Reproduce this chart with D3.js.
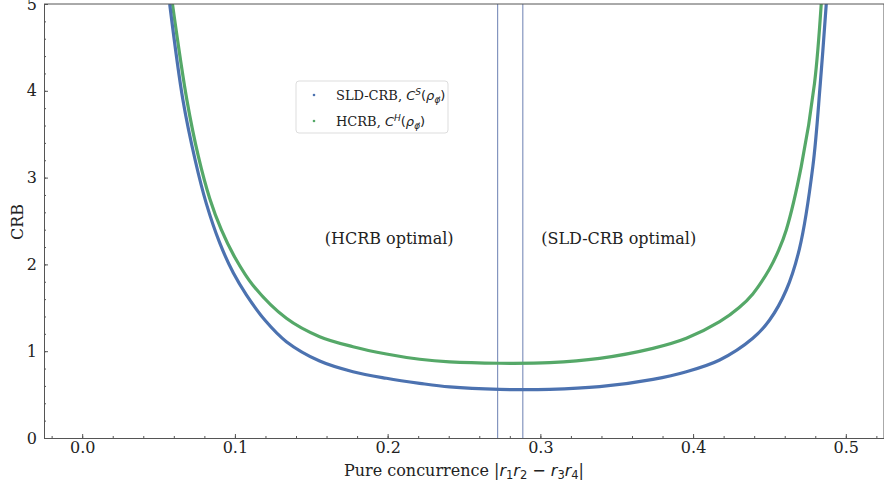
<!DOCTYPE html>
<html>
<head>
<meta charset="utf-8">
<script src="https://cdn.jsdelivr.net/npm/d3@7"></script>
<style>
  body { margin: 0; background: #fff; }
  svg { display: block; font-family: "DejaVu Serif", serif; }
</style>
</head>
<body>
<svg width="884" height="486"></svg>
<script>
// values
const sldX = [0.0573, 0.0660, 0.0740, 0.0813, 0.0900, 0.0990, 0.1075, 0.1200, 0.1337, 0.1555, 0.1773, 0.1992, 0.2210, 0.2406, 0.2733, 0.3061, 0.3388, 0.3737, 0.3956, 0.4174, 0.4391, 0.4501, 0.4610, 0.4697, 0.4784, 0.4833, 0.4872];
const sldY = [5.00, 3.89, 3.20, 2.70, 2.25, 1.90, 1.65, 1.35, 1.11, 0.887, 0.764, 0.688, 0.630, 0.588, 0.560, 0.560, 0.591, 0.676, 0.764, 0.899, 1.149, 1.359, 1.705, 2.185, 3.126, 4.086, 5.00];
const hcrbX = [0.0591, 0.0686, 0.0760, 0.0835, 0.0911, 0.1000, 0.1118, 0.1337, 0.1555, 0.1773, 0.1992, 0.2210, 0.2406, 0.2733, 0.3061, 0.3388, 0.3737, 0.3956, 0.4174, 0.4300, 0.4391, 0.4501, 0.4562, 0.4610, 0.4708, 0.4795, 0.4839];
const hcrbY = [5.00, 3.89, 3.25, 2.76, 2.40, 2.08, 1.76, 1.379, 1.167, 1.052, 0.968, 0.907, 0.876, 0.861, 0.868, 0.918, 1.033, 1.149, 1.340, 1.50, 1.660, 1.950, 2.170, 2.396, 3.126, 4.086, 5.00];
const vLines = [0.272, 0.2885];
const xTicks = [0.0, 0.1, 0.2, 0.3, 0.4, 0.5];
const yTicks = [0, 1, 2, 3, 4, 5];

const margin = {top: 4, left: 44};
const width = 840, height = 434;
const blue = "#4c72b0", green = "#55a868";

const svg = d3.select("svg");
const g = svg.append("g").attr("transform", `translate(${margin.left},${margin.top})`);

const x = d3.scaleLinear().domain([-0.025, 0.525]).range([0, width]);
const y = d3.scaleLinear().domain([0, 5]).range([height, 0]);

g.append("clipPath").attr("id", "clip")
  .append("rect").attr("width", width).attr("height", height);

// vertical markers
g.selectAll(".vline").data(vLines).enter().append("line")
  .attr("x1", d => x(d)).attr("x2", d => x(d))
  .attr("y1", 0).attr("y2", height)
  .attr("stroke", "#8495bf").attr("stroke-width", 1.2);

const line = d3.line().x(d => x(d[0])).y(d => y(d[1])).curve(d3.curveCatmullRom.alpha(0.5));

g.append("path").datum(d3.zip(hcrbX, hcrbY))
  .attr("clip-path", "url(#clip)")
  .attr("d", line).attr("fill", "none").attr("stroke", green).attr("stroke-width", 3.2);
g.append("path").datum(d3.zip(sldX, sldY))
  .attr("clip-path", "url(#clip)")
  .attr("d", line).attr("fill", "none").attr("stroke", blue).attr("stroke-width", 3.2);

// axes, ticks pointing inward
const xAxis = g.append("g").attr("transform", `translate(0,${height})`)
  .call(d3.axisBottom(x).tickValues(xTicks).tickFormat(d3.format(".1f")).tickSizeInner(-4).tickSizeOuter(0).tickPadding(4));
xAxis.append("g").call(d3.axisBottom(x).tickValues(d3.range(-0.02, 0.521, 0.02)).tickFormat("").tickSizeInner(-2).tickSizeOuter(0));
const yAxis = g.append("g")
  .call(d3.axisLeft(y).tickValues(yTicks).tickFormat(d3.format("d")).tickSizeInner(-4).tickSizeOuter(0).tickPadding(7));
yAxis.append("g").call(d3.axisLeft(y).tickValues(d3.range(0, 5.01, 0.2)).tickFormat("").tickSizeInner(-2).tickSizeOuter(0));

g.selectAll(".domain").attr("stroke", "#555");
g.selectAll(".tick line").attr("stroke", "#555");
g.selectAll(".tick text").attr("font-family", "DejaVu Serif").attr("font-size", 16).attr("fill", "#222");

g.append("line").attr("x1", 0).attr("x2", width).attr("y1", 0).attr("y2", 0).attr("stroke", "#555");
g.append("line").attr("x1", width).attr("x2", width).attr("y1", 0).attr("y2", height).attr("stroke", "#555");

// annotations
g.append("text").attr("x", x(0.201)).attr("y", y(2.3)).attr("dy", "0.35em")
  .attr("text-anchor", "middle").attr("font-size", 16).attr("fill", "#222").text("(HCRB optimal)");
g.append("text").attr("x", x(0.3513)).attr("y", y(2.3)).attr("dy", "0.35em")
  .attr("text-anchor", "middle").attr("font-size", 16).attr("fill", "#222").text("(SLD-CRB optimal)");

// axis labels
const xl = svg.append("text").attr("x", 464).attr("y", 476).attr("text-anchor", "middle")
  .attr("font-size", 16).attr("fill", "#222");
xl.append("tspan").text("Pure concurrence |");
const mathSans = "DejaVu Sans";
xl.append("tspan").attr("font-family", mathSans).attr("font-style", "italic").text("r");
xl.append("tspan").attr("font-family", mathSans).attr("font-size", 11.5).attr("dy", 3).text("1");
xl.append("tspan").attr("font-family", mathSans).attr("font-style", "italic").attr("dy", -3).text("r");
xl.append("tspan").attr("font-family", mathSans).attr("font-size", 11.5).attr("dy", 3).text("2");
xl.append("tspan").attr("font-family", mathSans).attr("dy", -3).text(" \u2212 ");
xl.append("tspan").attr("font-family", mathSans).attr("font-style", "italic").text("r");
xl.append("tspan").attr("font-family", mathSans).attr("font-size", 11.5).attr("dy", 3).text("3");
xl.append("tspan").attr("font-family", mathSans).attr("font-style", "italic").attr("dy", -3).text("r");
xl.append("tspan").attr("font-family", mathSans).attr("font-size", 11.5).attr("dy", 3).text("4");
xl.append("tspan").attr("dy", -3).text("|");

svg.append("text").attr("transform", "translate(23,222) rotate(-90)")
  .attr("text-anchor", "middle").attr("font-size", 16).attr("fill", "#222").text("CRB");

// legend
const lg = svg.append("g").attr("transform", "translate(296,81)");
lg.append("rect").attr("width", 152).attr("height", 52).attr("rx", 3)
  .attr("fill", "#fff").attr("stroke", "#ddd");
const entries = [{sym: "S", label: "SLD-CRB, ", c: blue}, {sym: "H", label: "HCRB, ", c: green}];
entries.forEach((e, i) => {
  const cy = 14 + i * 26;
  lg.append("circle").attr("cx", 18).attr("cy", cy).attr("r", 1.3).attr("fill", e.c);
  const t = lg.append("text").attr("x", 40).attr("y", cy).attr("dy", "0.35em")
    .attr("font-size", 13).attr("fill", "#222");
  t.append("tspan").text(e.label);
  t.append("tspan").attr("font-family", mathSans).attr("font-style", "italic").text("C");
  t.append("tspan").attr("font-family", mathSans).attr("font-style", "italic").attr("font-size", 9).attr("dy", -5).text(e.sym);
  t.append("tspan").attr("font-family", mathSans).attr("dy", 5).text("(");
  t.append("tspan").attr("font-family", mathSans).attr("font-style", "italic").text("\u03c1");
  t.append("tspan").attr("font-family", mathSans).attr("font-style", "italic").attr("font-size", 9).attr("dy", 3).text("\u03c6\u20d7");
  t.append("tspan").attr("font-family", mathSans).attr("dy", -3).text(")");
});
</script>
</body>
</html>
